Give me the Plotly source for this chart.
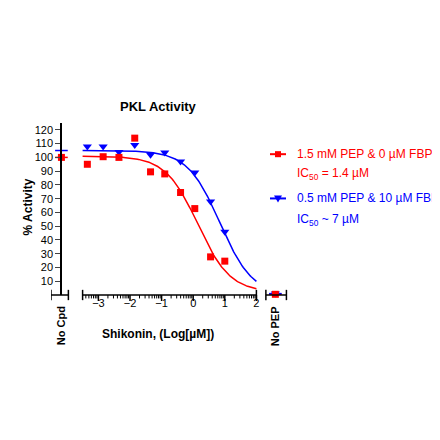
import numpy as np
import plotly.graph_objects as go

x_red = [-3.35, -2.85, -2.35, -1.85, -1.35, -0.9, -0.4, 0.05, 0.55, 1.0]
y_red = [95, 100.5, 100, 114, 89.5, 88, 74.5, 62.8, 27.7, 24.6]
x_blue = [-3.35, -2.85, -2.35, -1.85, -1.35, -0.9, -0.4, 0.05, 0.55, 1.0]
y_blue = [108, 108, 104, 109, 102, 103.5, 97, 89, 68, 46]
nocpd_red, nocpd_blue = 100, 105
nopep_red, nopep_blue = 0.5, 1
# fit parameters (top, bottom, logIC50, hill)
fit_red = (101, 2, 0.146, 0.85)
fit_blue = (105, 0, 0.845, 0.85)
XC, XP = -4.17, 2.6
RED, BLUE = "#ff0000", "#0000ff"

def fpl(x, p):
    top, bot, lic, h = p
    return bot + (top - bot) / (1 + 10 ** ((x - lic) * h))

xs = np.linspace(-3.5, 2, 200)
fig = go.Figure()
fig.add_trace(go.Scatter(x=xs, y=fpl(xs, fit_red), mode="lines", line=dict(color=RED, width=1.5)))
fig.add_trace(go.Scatter(x=xs, y=fpl(xs, fit_blue), mode="lines", line=dict(color=BLUE, width=1.5)))
for xv, yv, c in [(XC, nocpd_red, RED), (XC, nocpd_blue, BLUE), (XP, nopep_red, RED), (XP, nopep_blue, BLUE)]:
    fig.add_trace(go.Scatter(x=[xv - 0.2, xv + 0.2], y=[yv, yv], mode="lines", line=dict(color=c, width=1.5), cliponaxis=False))
fig.add_trace(go.Scatter(x=x_blue + [XP], y=y_blue + [nopep_blue], mode="markers", cliponaxis=False,
                         marker=dict(symbol="triangle-down", size=8, color=BLUE)))
fig.add_trace(go.Scatter(x=x_red + [XC, XP], y=y_red + [nocpd_red, nopep_red], mode="markers", cliponaxis=False,
                         marker=dict(symbol="square", size=7, color=RED)))

shapes = []
def seg(a, b):
    shapes.append(dict(type="line", xref="x", yref="paper", x0=a, x1=b, y0=0, y1=0, line=dict(color="black", width=1.5)))
    for e in (a, b):
        shapes.append(dict(type="line", xref="x", yref="paper", x0=e, x1=e, y0=0.03, y1=-0.03, line=dict(color="black", width=1.5)))
seg(-4.5, -3.95); seg(-3.5, 2.0); seg(2.3, 2.95)
for n in range(-4, 2):
    for k in range(2, 10):
        v = n + np.log10(k)
        if -3.5 < v < 2:
            shapes.append(dict(type="line", xref="x", yref="paper", x0=v, x1=v, y0=0, y1=-0.02, line=dict(color="black", width=1)))
for v in [-3, -2, -1, 0, 1, 2]:
    shapes.append(dict(type="line", xref="x", yref="paper", x0=v, x1=v, y0=0, y1=-0.035, line=dict(color="black", width=1.5)))
# legend symbols
for yy, c, sym in [(147, RED, "sq"), (191, BLUE, "tri")]:
    yp = (287 - yy) / 171
    shapes.append(dict(type="line", xref="paper", yref="paper", x0=(262 - 43) / 237, x1=(278 - 43) / 237, y0=yp, y1=yp, line=dict(color=c, width=2)))
    cx = (270 - 43) / 237
    if sym == "sq":
        shapes.append(dict(type="rect", xref="paper", yref="paper", x0=cx - 3 / 237, x1=cx + 3 / 237, y0=yp - 3 / 171, y1=yp + 3 / 171, fillcolor=c, line=dict(width=0)))
    else:
        shapes.append(dict(type="path", xref="paper", yref="paper",
                           path=f"M {cx-4/237} {yp+3/171} L {cx+4/237} {yp+3/171} L {cx} {yp-4/171} Z", fillcolor=c, line=dict(width=0)))

ann = [
    dict(text="<b>PKL Activity</b>", x=150, y=100, font=dict(size=13)),
    dict(text="<b>Shikonin, (Log[µM])</b>", x=150, y=326, font=dict(size=12)),
    dict(text="<b>% Activity</b>", x=20, y=200, textangle=-90, font=dict(size=12)),
    dict(text="<b>No Cpd</b>", x=53, y=318, textangle=-90, font=dict(size=11)),
    dict(text="<b>No PEP</b>", x=267, y=318, textangle=-90, font=dict(size=11)),
    dict(text="1.5 mM PEP & 0 µM FBP", x=287, y=147, xanchor="left", font=dict(size=12, color=RED)),
    dict(text="IC<sub>50</sub> = 1.4 µM", x=287, y=167, xanchor="left", font=dict(size=12, color=RED)),
    dict(text="0.5 mM PEP & 10 µM FBP", x=287, y=191, xanchor="left", font=dict(size=12, color=BLUE)),
    dict(text="IC<sub>50</sub> ~ 7 µM", x=287, y=212, xanchor="left", font=dict(size=12, color=BLUE)),
]
annotations = []
for a in ann:
    f = dict(family="Arial", color="black"); f.update(a["font"])
    d = dict(xref="paper", yref="paper", showarrow=False, x=(a["x"] - 43) / 237, y=(287 - a["y"]) / 171,
             text=a["text"], font=f, xanchor=a.get("xanchor", "center"), yanchor="middle")
    if "textangle" in a: d["textangle"] = a["textangle"]
    annotations.append(d)

fig.update_layout(
    width=440, height=440, showlegend=False, plot_bgcolor="white", paper_bgcolor="white",
    margin=dict(l=43, r=160, t=115, b=153, autoexpand=False),
    font=dict(family="Arial", size=11, color="black"),
    xaxis=dict(range=[-4.5, 3.0], tickvals=[-3, -2, -1, 0, 1, 2], showline=False, showgrid=False, zeroline=False,
               ticks="", tickfont=dict(size=11, family="Arial"), domain=[0, 1]),
    yaxis=dict(range=[0, 125], tickvals=list(range(10, 130, 10)), anchor="free", position=(53 - 43) / 237,
               showline=True, linecolor="black", linewidth=1.5, ticks="outside", ticklen=5, showgrid=False,
               zeroline=False, tickfont=dict(size=11, family="Arial")),
    shapes=shapes, annotations=annotations,
)
fig.write_html("out.html")
